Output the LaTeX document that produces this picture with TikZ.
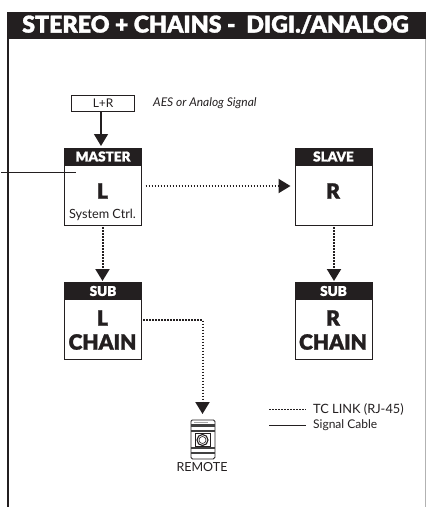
\documentclass[tikz,border=0pt]{standalone}
\usepackage{fontspec}
\setmainfont{Lato}
\newfontfamily\heavy[FakeBold=1.3]{Lato Black}
\usetikzlibrary{arrows.meta,calc}
\definecolor{ink}{HTML}{231F20}
\tikzset{
  x=1pt,y=-1pt,
  unit/.style={draw=ink,line width=1.3pt,fill=white,minimum width=77pt,minimum height=77pt,inner sep=0pt,anchor=north west},
  headbar/.style={fill=ink,draw=ink,line width=1pt,text=white,font=\heavy\fontsize{13.5}{14}\selectfont,minimum width=77pt,minimum height=17pt,inner sep=0pt,anchor=north west},
  big/.style={text=ink,font=\heavy\fontsize{21}{21}\selectfont,inner sep=0pt},
  small/.style={text=ink,font=\fontsize{12}{12}\selectfont,inner sep=0pt},
  solidarrow/.style={draw=ink,line width=1.3pt,-{Triangle[length=12pt,width=14pt]}},
  dotarrow/.style={draw=ink,line width=2pt,dash pattern=on 1.6pt off 1.4pt,-{Triangle[length=12pt,width=14pt,sep=0pt]}},
  dotline/.style={draw=ink,line width=1.8pt,dash pattern=on 1.6pt off 1.4pt},
  solidline/.style={draw=ink,line width=0.9pt},
}
\begin{document}
\begin{tikzpicture}
\useasboundingbox (0,0) rectangle (426,507);
% frame
\draw[draw=ink,line width=1.4pt] (8,38) -- (8,507);
\draw[draw=black!30,line width=0.6pt] (425.5,38) -- (425.5,507);
\node[fill=ink,minimum width=419pt,minimum height=27pt,inner sep=0pt,anchor=north west] (title) at (7,12) {};
\node[text=white,font=\heavy\fontsize{23.2}{24}\selectfont,inner sep=0pt,anchor=west] (titletext) at (22,24.5) {STEREO + CHAINS -\ \ DIGI./ANALOG};
% input
\node[draw=ink,line width=1.2pt,minimum width=63pt,minimum height=16pt,inner sep=0pt,font=\fontsize{12}{12}\selectfont,text=ink,anchor=north west] (input) at (71,95) {L+R};
\node[small,font=\itshape\fontsize{12}{12}\selectfont,anchor=west] (aes) at (153,103.5) {AES or Analog Signal};
% units
\node[unit] (master) at (64,147.5) {};
\node[headbar] (masterh) at (64,147.5) {MASTER};
\node[big] (masterl) at (102.5,191) {L};
\node[small,font=\fontsize{12.7}{13}\selectfont] (ctrl) at (102.5,215) {System Ctrl.};
\node[unit] (slave) at (294.5,147.5) {};
\node[headbar] (slaveh) at (294.5,147.5) {SLAVE};
\node[big] (slavel) at (333,191) {R};
\node[unit] (subl) at (64,282) {};
\node[headbar] (sublh) at (64,282) {SUB};
\node[big] (subll) at (102.5,318) {L};
\node[big] (sublc) at (102.5,342) {CHAIN};
\node[unit] (subr) at (294.5,282) {};
\node[headbar] (subrh) at (294.5,282) {SUB};
\node[big] (subrl) at (333,318) {R};
\node[big] (subrc) at (333,342) {CHAIN};
% remote icon
\node[draw=ink,line width=0.8pt,rounded corners=1.5pt,fill=white,minimum width=24pt,minimum height=39pt,inner sep=0pt,anchor=north west] (remote) at (190.5,419.5) {};
\fill[black!75] (191,424) rectangle (214.5,427);
\fill[black!75] (191,430) rectangle (214.5,432);
\fill[black!75] (191,447) rectangle (214.5,449);
\fill[black!75] (191,452) rectangle (214.5,454);
\fill[black!35] (194,421.5) rectangle (208,423);
\draw[ink,line width=0.7pt] (195,433.5) rectangle (210,446.5);
\draw[ink,line width=1.1pt] (202.5,440) circle (5.5pt);
\draw[ink,line width=0.6pt] (202.5,440) circle (3.5pt);
\node[small,font=\fontsize{12.5}{13}\selectfont] (remotelabel) at (202,467) {REMOTE};
% connectors
\coordinate (signalstart) at (1,172);
\coordinate (signalend) at (76,172);
\draw[solidline] (signalstart) -- (signalend);
\draw[solidarrow] (101,112) -- (101,146);
\draw[dotarrow] (145.5,186) -- (290.5,186);
\draw[dotarrow] (102.5,227) -- (102.5,281);
\draw[dotarrow] (334,227) -- (334,281);
\draw[dotarrow] (143,320) -| (202.5,414);
% legend
\coordinate (l1a) at (269,409.5);
\coordinate (l1b) at (306,409.5);
\coordinate (l2a) at (269,425);
\coordinate (l2b) at (306,425);
\draw[dotline] (l1a) -- (l1b);
\draw[solidline,line width=1pt] (l2a) -- (l2b);
\node[small,font=\fontsize{12.8}{13}\selectfont,anchor=west] (legend1) at (313,409.5) {TC LINK (RJ-45)};
\node[small,font=\fontsize{12}{12}\selectfont,anchor=west] (legend2) at (313,425) {Signal Cable};
\end{tikzpicture}
\end{document}
